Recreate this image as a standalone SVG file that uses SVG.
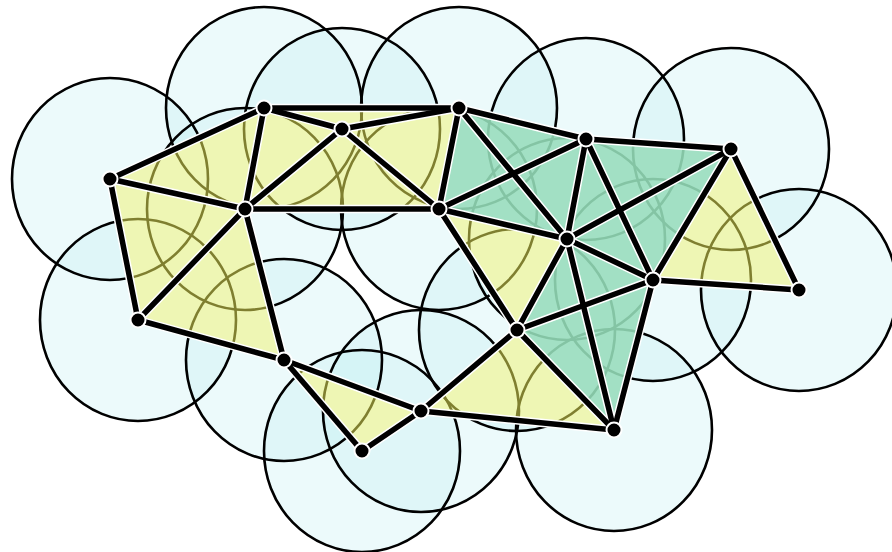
<svg xmlns="http://www.w3.org/2000/svg" width="892" height="552" viewBox="0 0 892 552">
<style>
.node circle{fill:#000;stroke:#fff;stroke-width:2}
</style>
<defs>
<g id="circs">
<ellipse cx="110" cy="179" rx="98" ry="101"/>
<ellipse cx="264" cy="108" rx="98" ry="101"/>
<ellipse cx="342" cy="129" rx="98" ry="101"/>
<ellipse cx="459" cy="108" rx="98" ry="101"/>
<ellipse cx="586" cy="139" rx="98" ry="101"/>
<ellipse cx="731" cy="149" rx="98" ry="101"/>
<ellipse cx="245" cy="209" rx="98" ry="101"/>
<ellipse cx="439" cy="209" rx="98" ry="101"/>
<ellipse cx="567" cy="239" rx="98" ry="101"/>
<ellipse cx="653" cy="280" rx="98" ry="101"/>
<ellipse cx="799" cy="290" rx="98" ry="101"/>
<ellipse cx="138" cy="320" rx="98" ry="101"/>
<ellipse cx="284" cy="360" rx="98" ry="101"/>
<ellipse cx="517" cy="330" rx="98" ry="101"/>
<ellipse cx="421" cy="411" rx="98" ry="101"/>
<ellipse cx="362" cy="451" rx="98" ry="101"/>
<ellipse cx="614" cy="430" rx="98" ry="101"/>
</g>
<g id="yel">
<polygon points="110,179 264,108 245,209"/>
<polygon points="110,179 245,209 138,320"/>
<polygon points="264,108 342,129 245,209"/>
<polygon points="264,108 342,129 459,108"/>
<polygon points="342,129 245,209 439,209"/>
<polygon points="342,129 459,108 439,209"/>
<polygon points="245,209 138,320 284,360"/>
<polygon points="284,360 421,411 362,451"/>
<polygon points="439,209 567,239 517,330"/>
<polygon points="517,330 421,411 614,430"/>
<polygon points="731,149 653,280 799,290"/>
</g>
<g id="grn">
<polygon points="459,108 586,139 567,239 439,209"/>
<polygon points="586,139 731,149 653,280 567,239"/>
<polygon points="567,239 653,280 614,430 517,330"/>
</g>
<mask id="mY"><use href="#yel" fill="#fff" stroke="#fff" stroke-width="0.6"/></mask>
<mask id="mG"><use href="#grn" fill="#fff" stroke="#fff" stroke-width="0.6"/></mask>
<g id="edgelist">
<line x1="110" y1="179" x2="264" y2="108"/>
<line x1="110" y1="179" x2="245" y2="209"/>
<line x1="110" y1="179" x2="138" y2="320"/>
<line x1="264" y1="108" x2="245" y2="209"/>
<line x1="264" y1="108" x2="342" y2="129"/>
<line x1="264" y1="108" x2="459" y2="108"/>
<line x1="342" y1="129" x2="245" y2="209"/>
<line x1="342" y1="129" x2="459" y2="108"/>
<line x1="342" y1="129" x2="439" y2="209"/>
<line x1="245" y1="209" x2="439" y2="209"/>
<line x1="245" y1="209" x2="138" y2="320"/>
<line x1="245" y1="209" x2="284" y2="360"/>
<line x1="138" y1="320" x2="284" y2="360"/>
<line x1="459" y1="108" x2="439" y2="209"/>
<line x1="459" y1="108" x2="586" y2="139"/>
<line x1="459" y1="108" x2="567" y2="239"/>
<line x1="586" y1="139" x2="439" y2="209"/>
<line x1="439" y1="209" x2="567" y2="239"/>
<line x1="439" y1="209" x2="517" y2="330"/>
<line x1="586" y1="139" x2="567" y2="239"/>
<line x1="586" y1="139" x2="731" y2="149"/>
<line x1="586" y1="139" x2="653" y2="280"/>
<line x1="731" y1="149" x2="567" y2="239"/>
<line x1="731" y1="149" x2="653" y2="280"/>
<line x1="731" y1="149" x2="799" y2="290"/>
<line x1="567" y1="239" x2="653" y2="280"/>
<line x1="567" y1="239" x2="517" y2="330"/>
<line x1="567" y1="239" x2="614" y2="430"/>
<line x1="653" y1="280" x2="799" y2="290"/>
<line x1="653" y1="280" x2="517" y2="330"/>
<line x1="653" y1="280" x2="614" y2="430"/>
<line x1="517" y1="330" x2="421" y2="411"/>
<line x1="517" y1="330" x2="614" y2="430"/>
<line x1="421" y1="411" x2="362" y2="451"/>
<line x1="421" y1="411" x2="614" y2="430"/>
<line x1="284" y1="360" x2="421" y2="411"/>
<line x1="284" y1="360" x2="362" y2="451"/>
</g>
</defs>
<rect width="892" height="552" fill="#fff"/>
<g id="cover-fill"><use href="#circs" fill="#c0edf3" fill-opacity="0.3" stroke="none"/></g>
<g id="cover-stroke"><use href="#circs" fill="none" stroke="#000" stroke-width="2.6"/></g>
<g id="triangles">
<use href="#yel" fill="#eef6b4" stroke="#eef6b4" stroke-width="0.6"/>
<g mask="url(#mY)"><use href="#circs" fill="none" stroke="#7f7f30" stroke-width="2.6"/></g>
</g>
<g id="tetrahedra">
<use href="#grn" fill="#a2e0c4" stroke="#a2e0c4" stroke-width="0.6"/>
<g mask="url(#mG)"><use href="#circs" fill="none" stroke="#84c4a4" stroke-width="2.6"/></g>
</g>
<g id="connectors">
<use href="#edgelist" stroke="#fff" stroke-width="8.5" stroke-linecap="round"/>
<use href="#edgelist" stroke="#000" stroke-width="5.5" stroke-linecap="round"/>
</g>
<g class="node">
<g id="nA"><circle cx="110" cy="179" r="7.5"/></g>
<g id="nB"><circle cx="264" cy="108" r="7.5"/></g>
<g id="nC"><circle cx="342" cy="129" r="7.5"/></g>
<g id="nD"><circle cx="459" cy="108" r="7.5"/></g>
<g id="nE"><circle cx="586" cy="139" r="7.5"/></g>
<g id="nF"><circle cx="731" cy="149" r="7.5"/></g>
<g id="nG"><circle cx="245" cy="209" r="7.5"/></g>
<g id="nH"><circle cx="439" cy="209" r="7.5"/></g>
<g id="nI"><circle cx="567" cy="239" r="7.5"/></g>
<g id="nJ"><circle cx="653" cy="280" r="7.5"/></g>
<g id="nK"><circle cx="799" cy="290" r="7.5"/></g>
<g id="nL"><circle cx="138" cy="320" r="7.5"/></g>
<g id="nM"><circle cx="284" cy="360" r="7.5"/></g>
<g id="nN"><circle cx="517" cy="330" r="7.5"/></g>
<g id="nO"><circle cx="421" cy="411" r="7.5"/></g>
<g id="nP"><circle cx="362" cy="451" r="7.5"/></g>
<g id="nQ"><circle cx="614" cy="430" r="7.5"/></g>
</g>
</svg>
